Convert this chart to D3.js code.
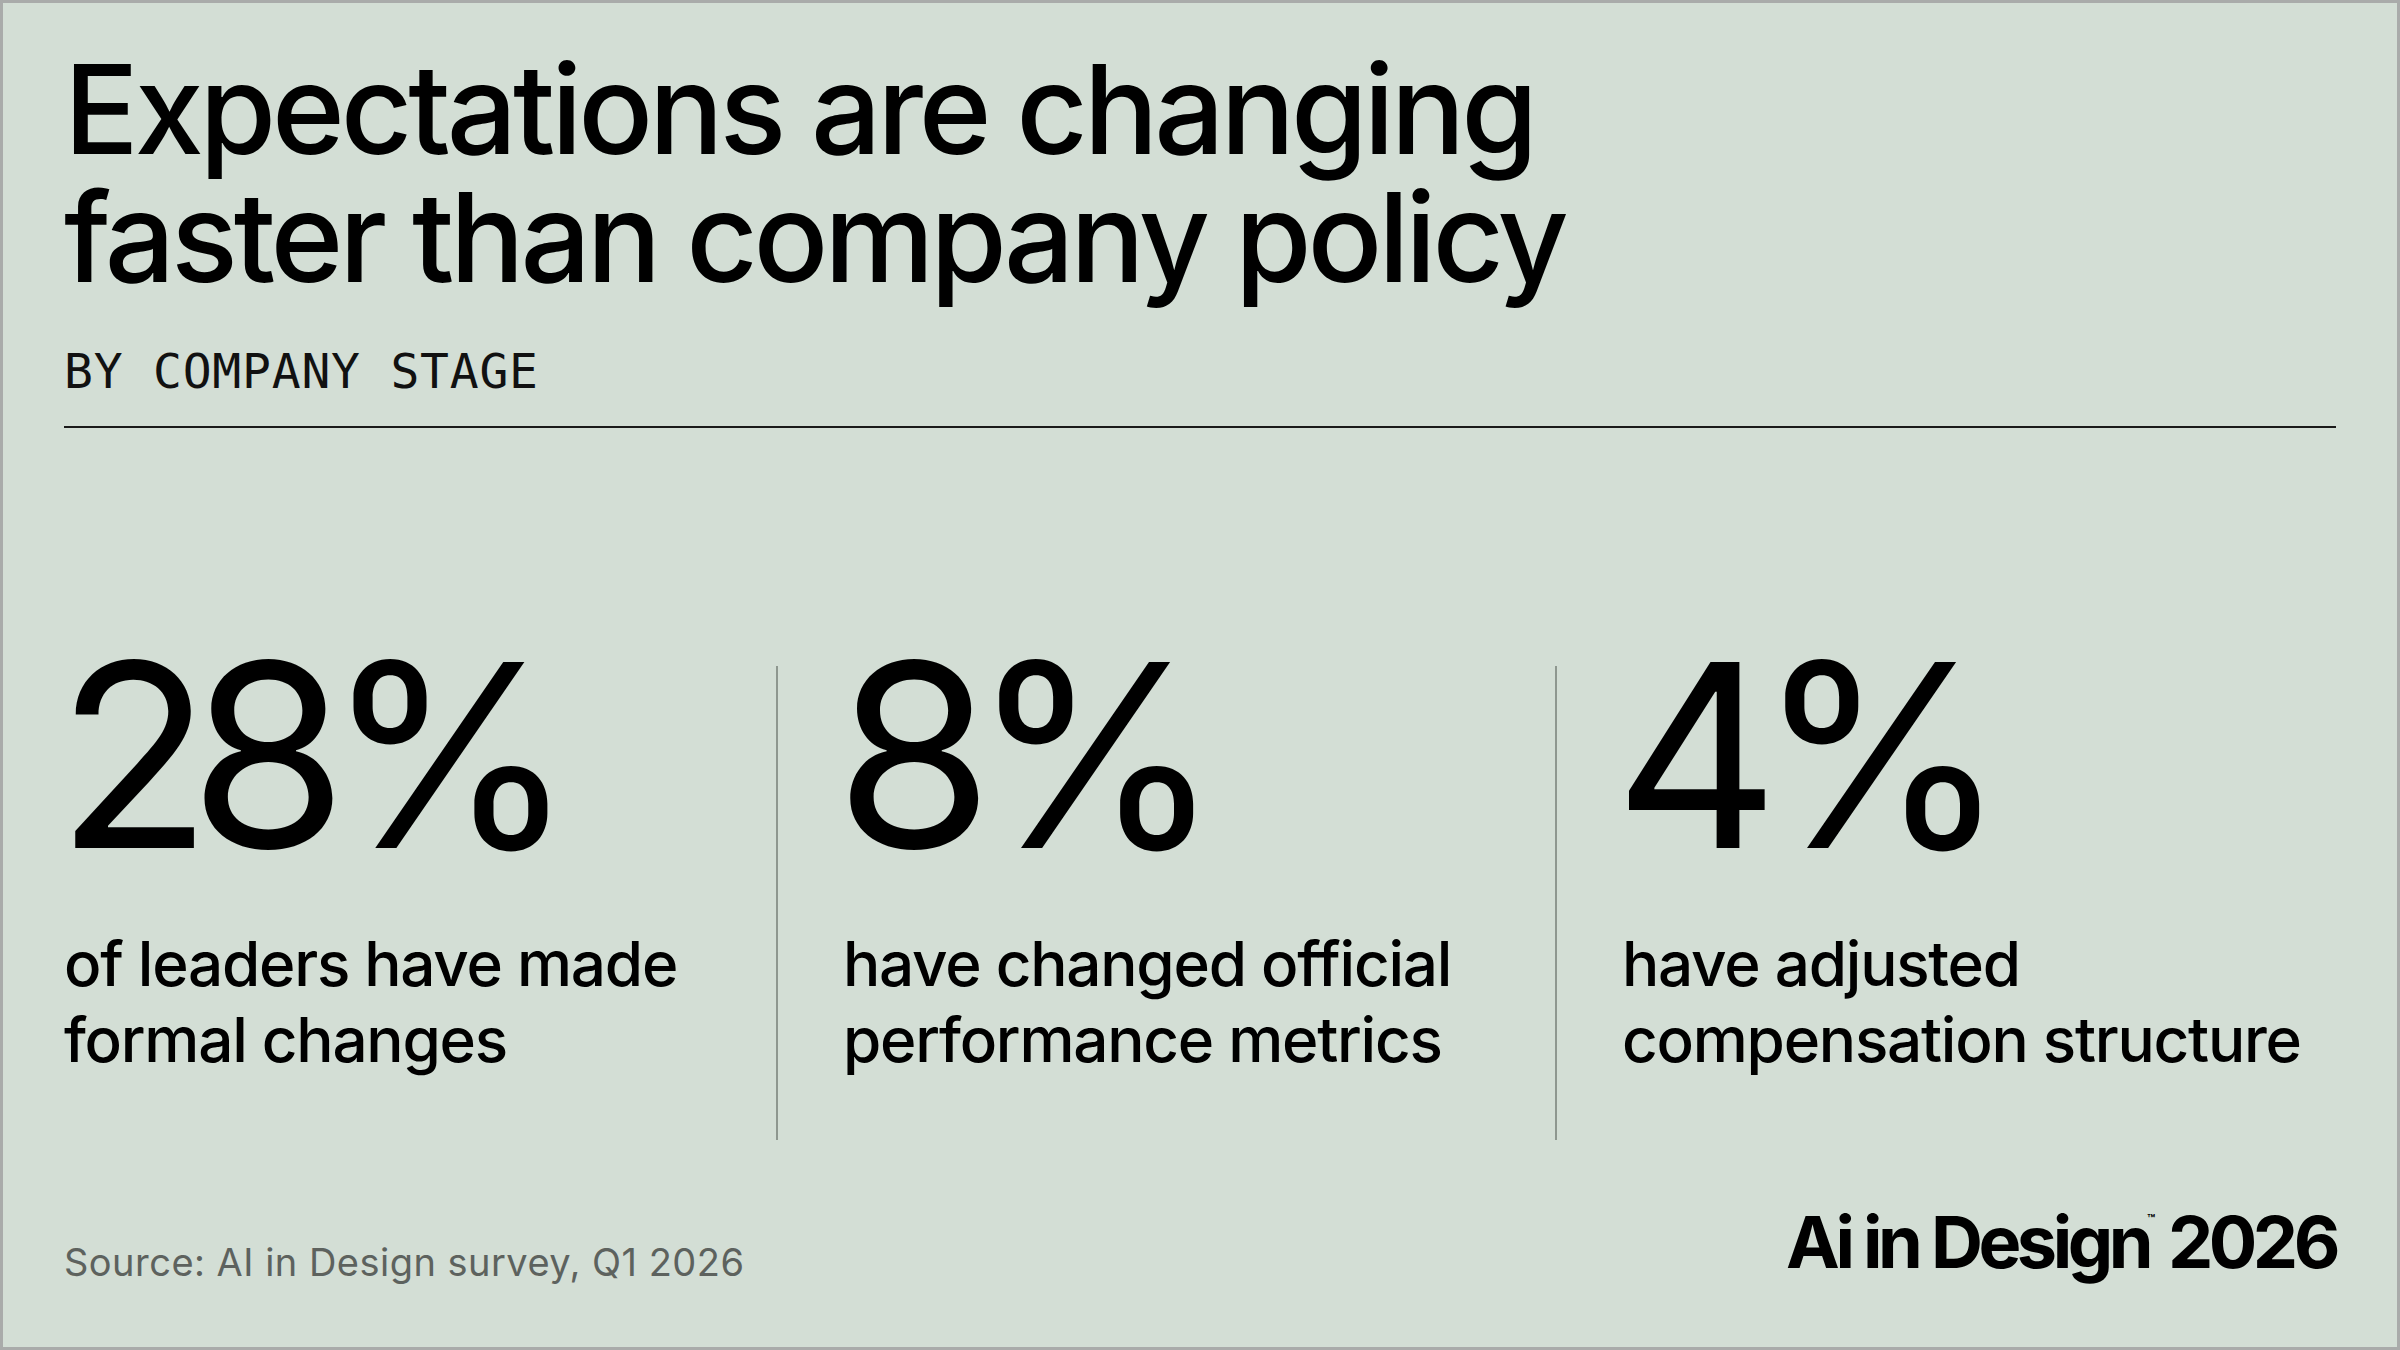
<!DOCTYPE html>
<html>
<head>
<meta charset="utf-8">
<script src="https://cdn.jsdelivr.net/npm/d3@7"></script>
<style>
  html, body { margin: 0; padding: 0; background: #d3ded5; }
  svg { display: block; }
</style>
</head>
<body>
<div id="chart"></div>
<script>
// # Data.
const titleLines = ['Expectations are changing', 'faster than company policy']
const subtitle = 'BY COMPANY STAGE'
const stats = [28, 8, 4]
const statLabels = [
    ['of leaders have made', 'formal changes'],
    ['have changed official', 'performance metrics'],
    ['have adjusted', 'compensation structure']
]
const source = 'Source: AI in Design survey, Q1 2026'
const brand = ['Ai in Design', '™', '2026']

// # Layout.
const W = 2400, H = 1350
const left = 64, right = 2336
const sans = 'Inter, "Noto Sans", sans-serif'
const mono = '"DejaVu Sans Mono", "Liberation Mono", monospace'

// # Spread letters so a text element covers a given width.
function fit(sel, width) {
    let ls = 0
    sel.each(function() {
        let t = d3.select(this).attr('letter-spacing', 0)
        let n = this.getNumberOfChars()
        ls = (width - this.getComputedTextLength()) / (n - 1)
        t.attr('letter-spacing', ls)
    })
    return ls
}

function draw() {
    let svg = d3.select('#chart')
        .append('svg')
        .attr('width', W)
        .attr('height', H)

    svg.append('rect')
        .attr('x', 1.5).attr('y', 1.5)
        .attr('width', W - 3).attr('height', H - 3)
        .attr('fill', '#d3ded5')
        .attr('stroke', '#a9abaa')
        .attr('stroke-width', 3)

    // # Title, one text block with a line per tspan.
    let title = svg.append('text')
        .attr('y', 154)
        .attr('font-family', sans)
        .attr('font-size', 124)
        .attr('font-weight', 500)
        .attr('fill', '#000')
    let titleRows = title.selectAll('tspan')
        .data(titleLines)
        .enter().append('tspan')
        .attr('x', left)
        .attr('dy', (d, i) => i == 0 ? 0 : 128)
        .text(d => d)
    let tls = fit(titleRows.filter((d, i) => i == 0), 1474)
    titleRows.attr('letter-spacing', tls)

    svg.append('text')
        .attr('x', left)
        .attr('y', 388)
        .attr('font-family', mono)
        .attr('font-size', 48)
        .attr('fill', '#111')
        .text(subtitle)
        .call(fit, 474)

    svg.append('line')
        .attr('x1', left).attr('x2', right)
        .attr('y1', 427).attr('y2', 427)
        .attr('stroke', '#1a1a1a')
        .attr('stroke-width', 2)

    // # Stat columns.
    let x = d3.scaleBand()
        .domain(d3.range(stats.length))
        .range([left, left + 779 * stats.length])

    svg.append('g').selectAll('line')
        .data(stats.slice(1))
        .enter().append('line')
        .attr('x1', (d, i) => x(i + 1) - 66)
        .attr('x2', (d, i) => x(i + 1) - 66)
        .attr('y1', 666).attr('y2', 1140)
        .attr('stroke', '#8e978f')
        .attr('stroke-width', 2)

    let cols = svg.append('g').selectAll('g')
        .data(stats)
        .enter().append('g')
        .attr('transform', (d, i) => `translate(${x(i)},0)`)

    let nums = cols.append('text')
        .attr('x', -8)
        .attr('y', 848)
        .attr('font-family', sans)
        .attr('font-size', 256)
        .attr('fill', '#000')
        .text(d => d + '%')
    let nls = fit(nums.filter((d, i) => i == 0), 520)
    nums.attr('letter-spacing', nls)

    let labels = cols.selectAll('.label')
        .data((d, i) => statLabels[i])
        .enter().append('text')
        .attr('class', 'label')
        .attr('x', 0)
        .attr('y', (d, j) => 986 + j * 76)
        .attr('font-family', sans)
        .attr('font-size', 62)
        .attr('font-weight', 450)
        .attr('fill', '#000')
        .text(d => d)
    let lls = fit(labels.filter(d => d == 'compensation structure'), 680)
    labels.attr('letter-spacing', lls)

    // # Footer.
    svg.append('text')
        .attr('x', left)
        .attr('y', 1276)
        .attr('font-family', sans)
        .attr('font-size', 38)
        .attr('fill', '#5d625e')
        .text(source)
        .call(fit, 680)

    let logo = svg.append('text')
        .attr('x', right)
        .attr('y', 1268)
        .attr('text-anchor', 'end')
        .attr('font-family', sans)
        .attr('font-size', 72)
        .attr('font-weight', 700)
        .attr('fill', '#000')
    logo.append('tspan').text(brand[0])
    logo.append('tspan')
        .attr('font-size', 13)
        .attr('dx', -2)
        .attr('dy', -44)
        .text(brand[1])
    logo.append('tspan')
        .attr('dy', 44)
        .text(' ' + brand[2])
    logo.call(fit, 552)
    logo.selectAll('tspan').filter((d, i) => i == 1).attr('letter-spacing', 0)
}

document.fonts.ready.then(draw)
</script>
</body>
</html>
